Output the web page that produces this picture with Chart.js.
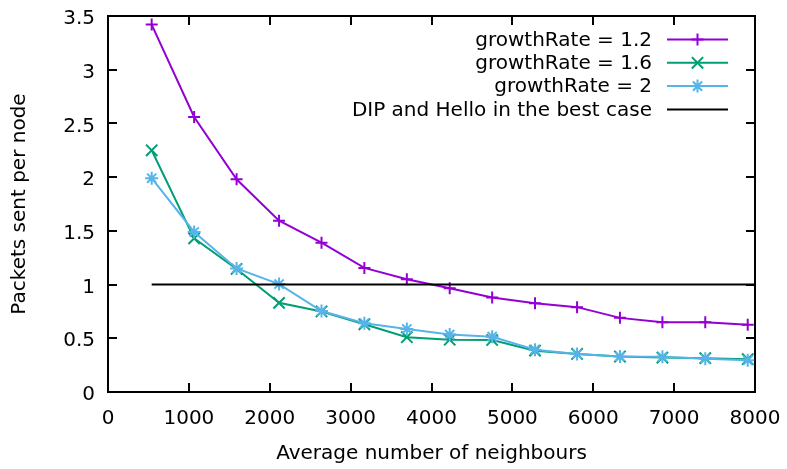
<!DOCTYPE html>
<html>
<head>
<meta charset="utf-8">
<title>Packets sent per node</title>
<script src="https://cdn.jsdelivr.net/npm/chart.js@4.4.1/dist/chart.umd.min.js"></script>
<style>
  html, body { margin: 0; padding: 0; background: #fff; }
  #wrap { width: 787px; height: 469px; }
</style>
</head>
<body>
<div id="wrap"><canvas id="packetsChart" width="787" height="469"></canvas></div>
<script>
// average number of neighbours at each simulation run
const neighbours = [540, 1065, 1590, 2115, 2640, 3170, 3695, 4225, 4750, 5280, 5800, 6330, 6855, 7385, 7910];

// packets sent per node for each growth rate
const rate12 = [3.42, 2.56, 1.98, 1.595, 1.39, 1.155, 1.05, 0.965, 0.88, 0.826, 0.79, 0.69, 0.65, 0.65, 0.627];
const rate16 = [2.25, 1.43, 1.145, 0.83, 0.75, 0.63, 0.51, 0.487, 0.484, 0.385, 0.354, 0.33, 0.32, 0.315, 0.305];
const rate20 = [1.99, 1.49, 1.15, 1.005, 0.754, 0.64, 0.587, 0.535, 0.515, 0.394, 0.354, 0.33, 0.327, 0.31, 0.295];

// DIP and Hello reference level
const bestCaseX = [540, 8000];
const bestCaseY = [1, 1];

const seriesLabels = ['growthRate = 1.2', 'growthRate = 1.6', 'growthRate = 2', 'DIP and Hello in the best case'];
const xTickValues = [0, 1000, 2000, 3000, 4000, 5000, 6000, 7000, 8000];
const yTickValues = [0, 0.5, 1, 1.5, 2, 2.5, 3, 3.5];

const FONT = { family: 'DejaVu Sans', size: 20 };

function pairs(xs, ys) {
  return xs.map((x, i) => ({ x: x, y: ys[i] }));
}

// gnuplot-like frame with inward ticks on all four sides
const frameTicks = {
  id: 'frameTicks',
  beforeDatasetsDraw(chart) {
    const { ctx, chartArea: a, scales } = chart;
    const len = 9;
    ctx.save();
    ctx.strokeStyle = '#000';
    ctx.lineWidth = 2;
    ctx.beginPath();
    scales.x.ticks.forEach(t => {
      const px = Math.round(scales.x.getPixelForValue(t.value));
      ctx.moveTo(px, a.bottom); ctx.lineTo(px, a.bottom - len);
      ctx.moveTo(px, a.top); ctx.lineTo(px, a.top + len);
    });
    scales.y.ticks.forEach(t => {
      const py = Math.round(scales.y.getPixelForValue(t.value));
      ctx.moveTo(a.left, py); ctx.lineTo(a.left + len, py);
      ctx.moveTo(a.right, py); ctx.lineTo(a.right - len, py);
    });
    ctx.stroke();
    ctx.strokeRect(a.left, a.top, a.right - a.left, a.bottom - a.top);
    ctx.restore();
  }
};

function drawMarker(ctx, style, r, x, y) {
  ctx.beginPath();
  if (style === 'cross' || style === 'star') {
    ctx.moveTo(x - r, y); ctx.lineTo(x + r, y);
    ctx.moveTo(x, y - r); ctx.lineTo(x, y + r);
  }
  if (style === 'crossRot' || style === 'star') {
    const d = r * Math.SQRT1_2;
    ctx.moveTo(x - d, y - d); ctx.lineTo(x + d, y + d);
    ctx.moveTo(x - d, y + d); ctx.lineTo(x + d, y - d);
  }
  ctx.stroke();
}

// key in the top right corner: right-aligned text, sample line after it
const gnuKey = {
  id: 'gnuKey',
  afterDraw(chart) {
    const { ctx, chartArea: a } = chart;
    const textRight = a.right - 103;
    const lineStart = a.right - 88;
    const lineEnd = a.right - 27;
    const top = a.top + 23.5;
    const step = 23.3;
    ctx.save();
    ctx.font = FONT.size + 'px "' + FONT.family + '"';
    ctx.textAlign = 'right';
    ctx.textBaseline = 'middle';
    chart.data.datasets.forEach((ds, i) => {
      const y = top + i * step;
      ctx.fillStyle = '#000';
      ctx.fillText(ds.label, textRight, y + 1);
      ctx.strokeStyle = ds.borderColor;
      ctx.lineWidth = 2;
      ctx.beginPath();
      ctx.moveTo(lineStart, y); ctx.lineTo(lineEnd, y);
      ctx.stroke();
      if (ds.pointRadius > 0) {
        drawMarker(ctx, ds.pointStyle, ds.pointRadius, (lineStart + lineEnd) / 2, y);
      }
    });
    ctx.restore();
  }
};

const ctx = document.getElementById('packetsChart').getContext('2d');
new Chart(ctx, {
  type: 'line',
  data: {
    datasets: [
      {
        label: seriesLabels[0],
        data: pairs(neighbours, rate12),
        borderColor: '#9400d3',
        backgroundColor: '#9400d3',
        borderWidth: 2,
        pointStyle: 'cross',
        pointRadius: 6,
        pointBorderWidth: 2,
        order: 3
      },
      {
        label: seriesLabels[1],
        data: pairs(neighbours, rate16),
        borderColor: '#009e73',
        backgroundColor: '#009e73',
        borderWidth: 2,
        pointStyle: 'crossRot',
        pointRadius: 8,
        pointBorderWidth: 2,
        order: 2
      },
      {
        label: seriesLabels[2],
        data: pairs(neighbours, rate20),
        borderColor: '#56b4e9',
        backgroundColor: '#56b4e9',
        borderWidth: 2,
        pointStyle: 'star',
        pointRadius: 6.5,
        pointBorderWidth: 2,
        order: 1
      },
      {
        label: seriesLabels[3],
        data: pairs(bestCaseX, bestCaseY),
        borderColor: '#000000',
        backgroundColor: '#000000',
        borderWidth: 2,
        pointRadius: 0,
        order: 0
      }
    ]
  },
  options: {
    responsive: false,
    animation: false,
    devicePixelRatio: 1,
    layout: { padding: { top: 16, right: 32, left: 0, bottom: 0 } },
    plugins: {
      legend: { display: false },
      tooltip: { enabled: false }
    },
    elements: { line: { tension: 0 } },
    scales: {
      x: {
        type: 'linear',
        min: 0,
        max: 8000,
        afterBuildTicks: scale => { scale.ticks = xTickValues.map(v => ({ value: v })); },
        afterFit: scale => {
          scale.height = 77;
          scale.paddingLeft = 0;
          scale.paddingRight = 0;
        },
        grid: { display: false, drawTicks: false },
        border: { display: false },
        ticks: {
          color: '#000', font: FONT, padding: 15, maxRotation: 0, autoSkip: false,
          callback: v => String(v)
        },
        title: {
          display: true,
          text: 'Average number of neighbours',
          color: '#000',
          font: FONT,
          padding: { top: 0, bottom: 3 }
        }
      },
      y: {
        type: 'linear',
        min: 0,
        max: 3.5,
        afterBuildTicks: scale => { scale.ticks = yTickValues.map(v => ({ value: v })); },
        afterFit: scale => {
          scale.width = 108;
          scale.paddingTop = 0;
          scale.paddingBottom = 0;
        },
        grid: { display: false, drawTicks: false },
        border: { display: false },
        ticks: {
          color: '#000', font: FONT, padding: 13, autoSkip: false, labelOffset: 3,
          callback: v => String(v)
        },
        title: {
          display: true,
          text: 'Packets sent per node',
          color: '#000',
          font: FONT,
          padding: { top: 8, bottom: 0 }
        }
      }
    }
  },
  plugins: [frameTicks, gnuKey]
});
</script>
</body>
</html>
